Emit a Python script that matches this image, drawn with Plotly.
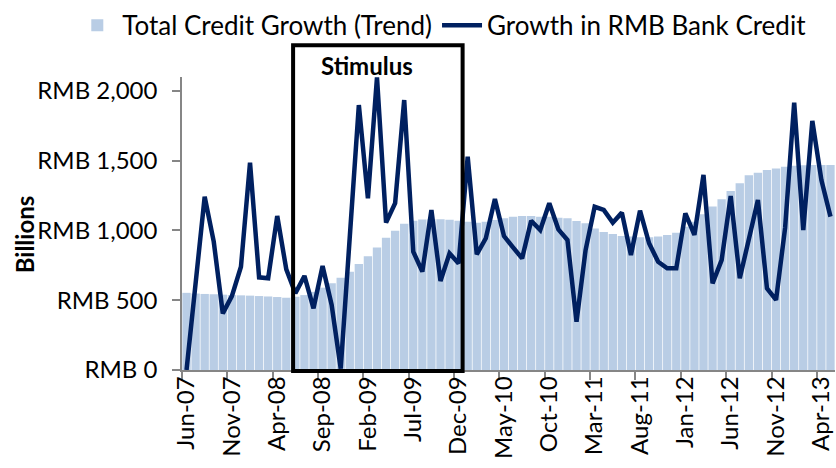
import plotly.graph_objects as go

months = [
    "Jun-07", "Jul-07", "Aug-07", "Sep-07", "Oct-07", "Nov-07", "Dec-07",
    "Jan-08", "Feb-08", "Mar-08", "Apr-08", "May-08", "Jun-08", "Jul-08", "Aug-08", "Sep-08", "Oct-08", "Nov-08", "Dec-08",
    "Jan-09", "Feb-09", "Mar-09", "Apr-09", "May-09", "Jun-09", "Jul-09", "Aug-09", "Sep-09", "Oct-09", "Nov-09", "Dec-09",
    "Jan-10", "Feb-10", "Mar-10", "Apr-10", "May-10", "Jun-10", "Jul-10", "Aug-10", "Sep-10", "Oct-10", "Nov-10", "Dec-10",
    "Jan-11", "Feb-11", "Mar-11", "Apr-11", "May-11", "Jun-11", "Jul-11", "Aug-11", "Sep-11", "Oct-11", "Nov-11", "Dec-11",
    "Jan-12", "Feb-12", "Mar-12", "Apr-12", "May-12", "Jun-12", "Jul-12", "Aug-12", "Sep-12", "Oct-12", "Nov-12", "Dec-12",
    "Jan-13", "Feb-13", "Mar-13", "Apr-13", "May-13",
]

total_credit_trend = [
    553, 548, 545, 543, 540, 537, 535, 533, 530, 527, 523, 518,
    525, 537, 560, 590, 621, 661, 704, 759, 816, 878, 948, 998,
    1048, 1069, 1079, 1081, 1081, 1076, 1069, 1062, 1056, 1063, 1075, 1087,
    1099, 1104, 1104, 1099, 1099, 1092, 1087, 1068, 1051, 1015, 989, 975,
    960, 956, 951, 951, 956, 968, 984, 1027, 1063, 1116, 1171, 1223,
    1283, 1338, 1395, 1414, 1433, 1445, 1457, 1464, 1467, 1469, 1469, 1469,
]

rmb_bank_credit = [
    0, 620, 1242, 920, 406, 530, 740, 1486, 664, 657, 1104, 721,
    550, 674, 442, 745, 466, 10, 950, 1899, 1230, 2097, 1056, 1195,
    1935, 848, 705, 1147, 638, 836, 764, 1529, 829, 944, 1226, 960,
    879, 800, 1070, 1003, 1195, 1008, 932, 346, 860, 1170, 1147, 1056,
    1128, 824, 1142, 908, 776, 729, 729, 1123, 968, 1398, 621, 788,
    1247, 657, 937, 1218, 585, 502, 1020, 1916, 1003, 1785, 1362, 1099,
]

y_tickvals = [0, 500, 1000, 1500, 2000]
y_ticktext = ["RMB 0", "RMB 500", "RMB 1,000", "RMB 1,500", "RMB 2,000"]

FONT = "Lato"
AXIS_GREY = "#868686"

fig = go.Figure()
fig.add_trace(go.Bar(
    x=months, y=total_credit_trend, name="Total Credit Growth (Trend)",
    marker=dict(color="#B9CDE5", line=dict(width=0)),
))
fig.add_trace(go.Scatter(
    x=months, y=rmb_bank_credit, name="Growth in RMB Bank Credit",
    mode="lines", line=dict(color="#002060", width=4.5),
))

fig.update_layout(
    width=836, height=468,
    margin=dict(l=182, r=1, t=77, b=98),
    paper_bgcolor="white", plot_bgcolor="white",
    bargap=0.08,
    font=dict(family=FONT, size=24, color="#000000"),
    showlegend=True,
    legend=dict(
        orientation="h", xref="paper", yref="paper",
        x=-0.168, xanchor="left", y=1.176, yanchor="middle",
        font=dict(family=FONT, size=26, color="#000000"),
        itemwidth=40, tracegroupgap=0, bgcolor="rgba(0,0,0,0)",
    ),
    xaxis=dict(
        type="category", categoryorder="array", categoryarray=months,
        tickmode="linear", tick0=0, dtick=5, tickson="boundaries",
        tickangle=-90, ticks="outside", ticklen=8, tickcolor=AXIS_GREY, tickwidth=1.5,
        showline=True, linecolor=AXIS_GREY, linewidth=1.5,
        showgrid=False, zeroline=False,
        tickfont=dict(family=FONT, size=24, color="#000000"),
        ticklabelstandoff=-5,
        range=[-0.5, len(months) - 0.5],
    ),
    yaxis=dict(
        range=[0, 2100], tickmode="array", tickvals=y_tickvals, ticktext=y_ticktext,
        ticks="outside", ticklen=8, tickcolor=AXIS_GREY, tickwidth=1.5,
        showline=True, linecolor=AXIS_GREY, linewidth=1.5,
        showgrid=False, zeroline=False,
        tickfont=dict(family=FONT, size=24, color="#000000"),
        ticklabelstandoff=10,
    ),
)

fig.add_annotation(
    x=-0.2416, xref="paper", y=0.464, yref="paper", text="<b>Billions</b>", showarrow=False,
    textangle=-90, font=dict(family=FONT, size=24, color="#000000"),
    xanchor="center", yanchor="middle",
)

fig.add_shape(
    type="rect", xref="x", yref="paper",
    x0=11.75, x1=30.44, y0=-0.003, y1=1.108,
    line=dict(color="#000000", width=4), fillcolor="rgba(0,0,0,0)", layer="above",
)
fig.add_annotation(
    x=19.9, xref="x", y=1.04, yref="paper", text="<b>Stimulus</b>", showarrow=False,
    font=dict(family=FONT, size=24, color="#000000"), xanchor="center", yanchor="middle",
)

fig.write_html(
    "out.html",
    config={"displayModeBar": False},
    post_script="document.body.style.margin='0';document.body.style.padding='0';",
)
